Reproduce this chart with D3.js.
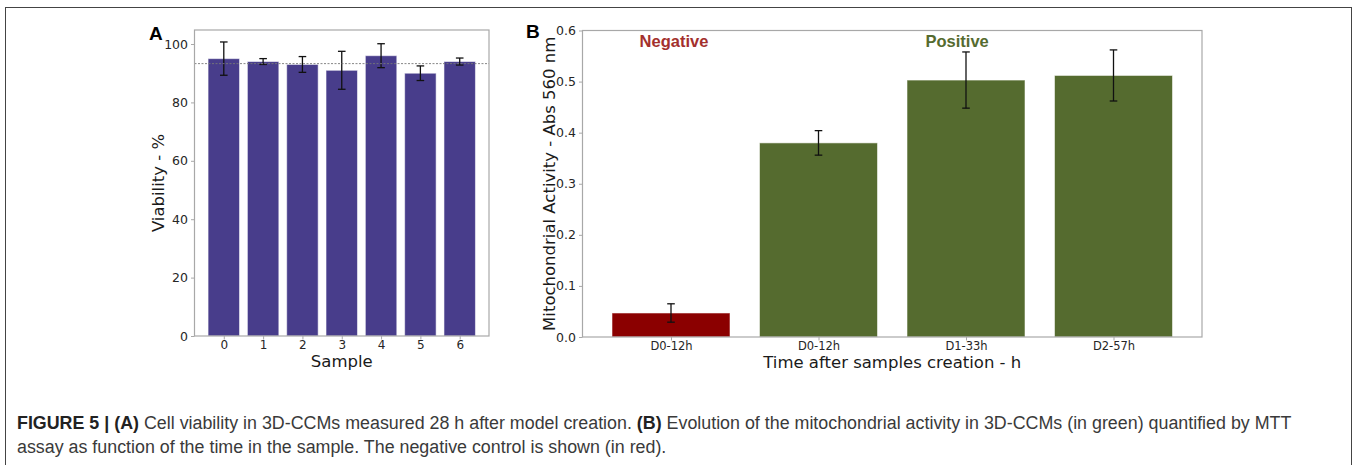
<!DOCTYPE html>
<html><head><meta charset="utf-8">
<script src="https://cdn.jsdelivr.net/npm/d3@7"></script>
<style>
html,body{margin:0;padding:0;background:#fff;}
svg{display:block;}
</style></head>
<body>
<svg id="fig" width="1354" height="465"></svg>
<script>
// ---- Panel A data ----
const samplesA = ["0","1","2","3","4","5","6"];
const viability = [95, 94, 93, 91, 96, 90, 94];
const viabilityErr = [5.7, 1.0, 2.7, 6.5, 4.1, 2.5, 1.2];
const ticksA = [0, 20, 40, 60, 80, 100];

// ---- Panel B data ----
const timesB = ["D0-12h", "D0-12h", "D1-33h", "D2-57h"];
const groupB = ["neg", "pos", "pos", "pos"];
const activity = [0.047, 0.380, 0.503, 0.512];
const activityErr = [0.018, 0.024, 0.055, 0.050];
const ticksB = [0.0, 0.1, 0.2, 0.3, 0.4, 0.5, 0.6];

const svg = d3.select("#fig");
const FONT = "DejaVu Sans, sans-serif";
const SPINE = "#a8a8a8";

// outer frame
svg.append("rect").attr("x", 5.5).attr("y", 7.5).attr("width", 1346).attr("height", 470)
  .attr("fill", "none").attr("stroke", "#444").attr("stroke-width", 1);

function panel(cfg) {
  const g = svg.append("g");
  const x = d3.scaleLinear().domain(cfg.xDomain).range([cfg.left, cfg.right]);
  const y = d3.scaleLinear().domain(cfg.yDomain).range([cfg.bottom, cfg.top]);
  const idx = cfg.values.map((d, i) => i);
  const bw = x(0.8) - x(0);

  // bars
  g.selectAll("rect.bar").data(idx).join("rect")
    .attr("x", i => x(i) - bw / 2).attr("width", bw)
    .attr("y", i => y(cfg.values[i])).attr("height", i => y(0) - y(cfg.values[i]))
    .attr("fill", i => cfg.color(i))
    .attr("stroke", "#ffffff").attr("stroke-opacity", 0.55).attr("stroke-width", 1);

  // error bars
  const eb = g.selectAll("g.err").data(idx).join("g").attr("stroke", "#111").attr("stroke-width", 1.3);
  eb.append("line").attr("x1", i => x(i)).attr("x2", i => x(i))
    .attr("y1", i => y(cfg.values[i] + cfg.errs[i])).attr("y2", i => y(cfg.values[i] - cfg.errs[i]));
  eb.append("line").attr("x1", i => x(i) - 3.8).attr("x2", i => x(i) + 3.8)
    .attr("y1", i => y(cfg.values[i] + cfg.errs[i])).attr("y2", i => y(cfg.values[i] + cfg.errs[i]));
  eb.append("line").attr("x1", i => x(i) - 3.8).attr("x2", i => x(i) + 3.8)
    .attr("y1", i => y(cfg.values[i] - cfg.errs[i])).attr("y2", i => y(cfg.values[i] - cfg.errs[i]));

  if (cfg.meanLine) {
    const m = d3.mean(cfg.values);
    g.append("line").attr("x1", cfg.left).attr("x2", cfg.right).attr("y1", y(m)).attr("y2", y(m))
      .attr("stroke", "#777").attr("stroke-width", 0.9).attr("stroke-dasharray", "2,1.5");
  }

  // spines
  g.append("rect").attr("x", cfg.left).attr("y", cfg.top)
    .attr("width", cfg.right - cfg.left).attr("height", cfg.bottom - cfg.top)
    .attr("fill", "none").attr("stroke", SPINE).attr("stroke-width", 1.2);

  // axes
  const ya = d3.axisLeft(y).tickValues(cfg.yTicks).tickFormat(cfg.yFormat).tickSize(3.5).tickPadding(3);
  const yg = g.append("g").attr("transform", `translate(${cfg.left},0)`).call(ya);
  const xa = d3.axisBottom(x).tickValues(idx).tickFormat(i => cfg.labels[i]).tickSize(3.5).tickPadding(1);
  const xg = g.append("g").attr("transform", `translate(0,${cfg.bottom})`).call(xa);
  [yg, xg].forEach(a => {
    a.select(".domain").remove();
    a.selectAll(".tick line").attr("stroke", SPINE);
  });
  yg.selectAll(".tick text").attr("font-family", FONT).attr("font-size", cfg.tickFont).attr("fill", "#262626");
  xg.selectAll(".tick text").attr("font-family", FONT).attr("font-size", cfg.xTickFont).attr("fill", "#262626");

  // labels
  g.append("text").attr("x", (cfg.left + cfg.right) / 2 + (cfg.xLabelShift || 0)).attr("y", cfg.xLabelY)
    .attr("text-anchor", "middle").attr("font-family", FONT).attr("font-size", 16.5).attr("fill", "#1a1a1a")
    .text(cfg.xLabel);
  g.append("text").attr("transform", `translate(${cfg.yLabelX},${(cfg.top + cfg.bottom) / 2}) rotate(-90)`)
    .attr("text-anchor", "middle").attr("dominant-baseline", "central")
    .attr("font-family", FONT).attr("font-size", 16.5).attr("fill", "#1a1a1a").text(cfg.yLabel);
  g.append("text").attr("x", cfg.letterX).attr("y", cfg.letterY)
    .attr("font-family", "Liberation Sans, Arial, sans-serif").attr("font-weight", "bold")
    .attr("font-size", 19).attr("fill", "#000").text(cfg.letter);
  return { g, x, y };
}

// Panel A
panel({
  left: 194.5, right: 489, top: 30, bottom: 336,
  xDomain: [-0.745, 6.745], yDomain: [0, 104.8],
  values: viability, errs: viabilityErr, labels: samplesA,
  color: () => "#483D8B", meanLine: true,
  yTicks: ticksA, yFormat: d3.format("d"), tickFont: 12.5, xTickFont: 12,
  xLabel: "Sample", xLabelY: 367, yLabel: "Viability - %", yLabelX: 158,
  letter: "A", letterX: 149, letterY: 40
});

// Panel B
const pB = panel({
  left: 582.5, right: 1202, top: 30.5, bottom: 337,
  xDomain: [-0.6, 3.6], yDomain: [0, 0.6],
  values: activity, errs: activityErr, labels: timesB,
  color: i => groupB[i] === "neg" ? "#8B0000" : "#556B2F", meanLine: false,
  yTicks: ticksB, yFormat: d3.format(".1f"), tickFont: 12.5, xTickFont: 11.5,
  xLabel: "Time after samples creation - h", xLabelY: 368, xLabelShift: 0,
  yLabel: "Mitochondrial Activity - Abs 560 nm", yLabelX: 549,
  letter: "B", letterX: 526, letterY: 38
});
pB.g.append("text").attr("x", pB.x(0.02)).attr("y", 47)
  .attr("text-anchor", "middle").attr("font-family", "Liberation Sans, Arial, sans-serif")
  .attr("font-weight", "bold").attr("font-size", 16.5).attr("fill", "#A3302D").text("Negative");
pB.g.append("text").attr("x", pB.x(1.94)).attr("y", 47)
  .attr("text-anchor", "middle").attr("font-family", "Liberation Sans, Arial, sans-serif")
  .attr("font-weight", "bold").attr("font-size", 16.5).attr("fill", "#556B2F").text("Positive");

// Caption
const CAP = "Liberation Sans, Arial, Helvetica, sans-serif";
const line1 = [
  ["FIGURE 5 | (A)", true], [" Cell viability in 3D-CCMs measured 28 h after model creation. ", false],
  ["(B)", true], [" Evolution of the mitochondrial activity in 3D-CCMs (in green) quantified by MTT", false]
];
const line2 = [["assay as function of the time in the sample. The negative control is shown (in red).", false]];
function capLine(parts, yy, fs) {
  const t = svg.append("text").attr("x", 17).attr("y", yy).attr("font-family", CAP)
    .attr("font-size", fs).attr("fill", "#333");
  parts.forEach(p => t.append("tspan").attr("font-weight", p[1] ? "bold" : "normal")
    .attr("fill", p[1] ? "#222" : "#3a3a3a").text(p[0]));
  return t;
}
const t1 = capLine(line1, 429, 15);
const w = t1.node().getComputedTextLength();
const fs = 15 * 1275 / w;
t1.attr("font-size", fs);
capLine(line2, 453, fs);
</script>
</body></html>
